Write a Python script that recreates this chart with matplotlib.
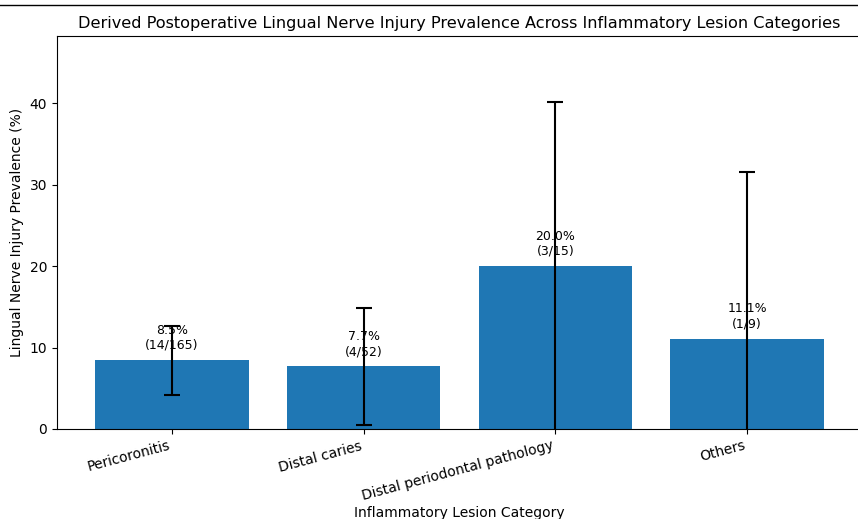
import numpy as np
import matplotlib
matplotlib.use("Agg")
from matplotlib import pyplot as plt
from matplotlib.lines import Line2D

categories = ["Pericoronitis", "Distal caries", "Distal periodontal pathology", "Others"]
prevalence = [8.5, 7.7, 20.0, 11.1]
labels = ["8.5%\n(14/165)", "7.7%\n(4/52)", "20.0%\n(3/15)", "11.1%\n(1/9)"]
# lower ends of the last two bars fall below zero and are clipped by the axis
ci_lower = [4.2, 0.5, -0.2, -9.4]
ci_upper = [12.7, 14.9, 40.2, 31.6]


def plot_prevalence():
    fig = plt.figure(figsize=(8.58, 5.19), dpi=100)
    ax = fig.add_axes([57 / 858, 90 / 519, 805 / 858, 393 / 519])

    x = np.arange(len(categories))
    vals = np.array(prevalence)
    yerr = [vals - np.array(ci_lower), np.array(ci_upper) - vals]

    ax.bar(x, vals, width=0.8, color="#1f77b4")
    ax.errorbar(x, vals, yerr=yerr, fmt="none", ecolor="black",
                elinewidth=1.5, capsize=6, capthick=1.5)

    for xi, v, lab in zip(x, vals, labels):
        ax.text(xi, v + 1, lab, ha="center", va="bottom", fontsize=9)

    ax.set_xticks(x)
    ax.set_xticklabels(categories, rotation=15, ha="right", fontsize=10)
    ax.set_ylim(0, max(ci_upper) * 1.2)
    ax.set_xlim(-0.6, 3.6)
    ax.set_title("Derived Postoperative Lingual Nerve Injury Prevalence Across Inflammatory Lesion Categories",
                 fontsize=11.6)
    ax.set_xlabel("Inflammatory Lesion Category", labelpad=2)
    ax.set_ylabel("Lingual Nerve Injury Prevalence (%)")

    # thin border line seen at the very top of the reference
    fig.add_artist(Line2D([0, 1], [1 - 5 / 519, 1 - 5 / 519], color="black", linewidth=1))

    fig.savefig("out.png", dpi=100)


plot_prevalence()
